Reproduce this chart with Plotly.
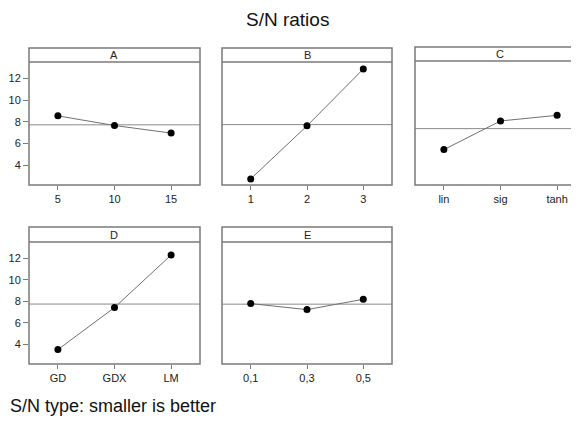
import plotly.graph_objects as go

W, H = 579, 422
OFF = 8  # page body margin offset compensation

# ---- data ----
factors = ["A", "B", "C", "D", "E"]
levels_A = ["5", "10", "15"]
levels_B = ["1", "2", "3"]
levels_C = ["lin", "sig", "tanh"]
levels_D = ["GD", "GDX", "LM"]
levels_E = ["0,1", "0,3", "0,5"]
sn_A = [8.55, 7.66, 6.96]
sn_B = [2.73, 7.63, 12.87]
sn_C = [5.41, 8.03, 8.55]
sn_D = [3.51, 7.42, 12.31]
sn_E = [7.79, 7.23, 8.19]
y_ticks = [4, 6, 8, 10, 12]

levels = [levels_A, levels_B, levels_C, levels_D, levels_E]
values = [sn_A, sn_B, sn_C, sn_D, sn_E]

# panel geometry in page pixels: (left, right, header_top, header_bottom, plot_bottom)
panels = [
    (29, 200, 48, 62, 185),
    (222, 392, 48, 62, 185),
    (415, 586, 47, 61, 185),
    (29, 200, 227, 242, 364),
    (222, 392, 227, 242, 364),
]
Y_LO, Y_HI = 2.17, 13.52
FRAME = "#7a7a7a"

def px(x):
    return (x - OFF) / W

def py(y):
    return 1 - (y - OFF) / H

fig = go.Figure()
shapes = []
annotations = []

for i, (f, lv, vals, (l, r, ht, hb, pb)) in enumerate(zip(factors, levels, values, panels)):
    n = i + 1
    xa = "x" if n == 1 else f"x{n}"
    ya = "y" if n == 1 else f"y{n}"
    xkey = "xaxis" if n == 1 else f"xaxis{n}"
    ykey = "yaxis" if n == 1 else f"yaxis{n}"
    r_dom = min(r, W + OFF)
    span_full = r - l
    x_hi = -0.51 + 3.02 * (r_dom - l) / span_full
    fig.add_trace(go.Scatter(
        x=[0, 1, 2], y=vals, mode="lines+markers",
        line=dict(color="#707070", width=1),
        marker=dict(color="black", size=7),
        xaxis=xa, yaxis=ya, showlegend=False, hoverinfo="skip"))
    show_y = (i % 3 == 0)
    fig.update_layout(**{
        xkey: dict(domain=[px(l), min(px(r_dom), 1)], range=[-0.51, x_hi],
                   tickvals=[0, 1, 2], ticktext=lv, ticks="outside", ticklen=4,
                   tickcolor=FRAME, showgrid=False, zeroline=False, showline=False,
                   tickfont=dict(size=11, color="#222", family="Liberation Sans"),
                   anchor=ya, fixedrange=True),
        ykey: dict(domain=[py(pb), py(hb)], range=[Y_LO, Y_HI],
                   tickvals=y_ticks if show_y else [], ticks="outside" if show_y else "",
                   ticklen=5, tickcolor=FRAME, showticklabels=show_y,
                   showgrid=False, zeroline=False, showline=False,
                   tickfont=dict(size=11, color="#222", family="Liberation Sans"),
                   anchor=xa, fixedrange=True),
    })
    mean = sum(vals) / len(vals)
    shapes.append(dict(type="line", xref=f"{xa} domain", yref=ya, x0=0, x1=1,
                       y0=mean, y1=mean, line=dict(color="#8a8a8a", width=1), layer="below"))
    shapes.append(dict(type="rect", xref="paper", yref="paper",
                       x0=px(l), x1=px(r), y0=py(pb), y1=py(ht),
                       line=dict(color=FRAME, width=1.5)))
    shapes.append(dict(type="line", xref="paper", yref="paper",
                       x0=px(l), x1=px(r), y0=py(hb), y1=py(hb),
                       line=dict(color=FRAME, width=1.5)))
    annotations.append(dict(text=f, xref="paper", yref="paper",
                            x=px((l + r) / 2), y=py((ht + hb) / 2),
                            xanchor="center", yanchor="middle", showarrow=False,
                            font=dict(size=11, color="#222", family="Liberation Sans")))

annotations.append(dict(text="S/N ratios", xref="paper", yref="paper",
                        x=px(287), y=py(20), xanchor="center", yanchor="middle",
                        showarrow=False,
                        font=dict(size=19, color="#111", family="Liberation Sans")))
annotations.append(dict(text="S/N type: smaller is better", xref="paper", yref="paper",
                        x=px(OFF), y=py(406), xanchor="left", yanchor="middle",
                        showarrow=False,
                        font=dict(size=18, color="#111", family="Liberation Sans")))

fig.update_layout(width=W, height=H, margin=dict(l=0, r=0, t=0, b=0),
                  paper_bgcolor="white", plot_bgcolor="white",
                  shapes=shapes, annotations=annotations)

fig.write_html("out.html")
